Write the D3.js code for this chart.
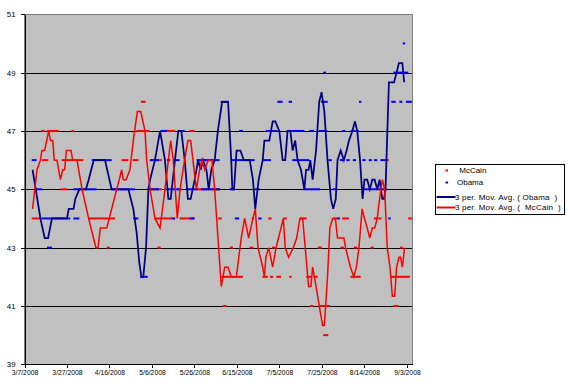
<!DOCTYPE html>
<html>
<head>
  <meta charset="utf-8">
  <title>McCain vs Obama</title>
  <script src="https://d3js.org/d3.v7.min.js"></script>
  <style>
    body { margin: 0; background: #fff; }
    text { font-family: "Liberation Sans", Arial, sans-serif; }
  </style>
</head>
<body>
<script>
  // day offsets are counted from 3/7/2008
  var startDate = "3/7/2008";
  var xTickLabels = ["3/7/2008", "3/27/2008", "4/16/2008", "5/6/2008", "5/26/2008",
    "6/15/2008", "7/5/2008", "7/25/2008", "8/14/2008", "9/3/2008"];
  var yTicks = [39, 41, 43, 45, 47, 49, 51];
  var gridValues = [41, 43, 45, 47, 49];

  // poll points, as runs of the same value: [first day, last day, value]
  var mccainRuns = [[3.4,8.1,44],[7.9,9.5,47],[8.1,11.2,46],[10.6,16.1,47],[16.9,20,45],[17.5,27.7,46],
    [22,23.1,47],[30,42.6,44],[38.7,40.2,43],[45.7,48.9,46],[50.9,53.6,46],[52.8,59,47],[54.8,57,48],
    [58,64.6,45],[59,64.6,46],[61,70.8,44],[62.6,64.1,43],[66,70.8,47],[71.9,74.1,45],[73,80,44],
    [77.7,80,47],[81,92,45],[81.6,89.5,46],[91.2,92.8,44],[92.6,102.8,42],[93.4,95,41],[96.6,98.1,43],
    [106,107.7,43],[106.9,107.7,44],[112,114.5,42],[114.7,116.3,44],[115.5,117,42],[116.5,118,43],
    [118.5,120.7,42],[121.8,123.4,44],[124.6,125.4,42],[129.6,132.8,44],[132.5,135,42],[134.4,135.9,41],
    [136,138,42],[138,139.9,43],[138.3,143.8,41],[140.6,143,40],[145.6,147.2,44],[148.7,150.3,43],
    [149.5,152.7,44],[153.4,158.2,42],[155,156.6,43],[162.8,164.4,43],[164.4,166,44],[166.5,168,44],
    [167.5,168.5,45],[170.3,171.3,46],[172.3,181.4,42],[173.6,176,41],[176.7,178,43],[180.6,182.3,44]];

  var obamaRuns = [[3.4,5.7,46],[5.4,8.1,45],[8.2,21.5,44],[23,25.8,44],[10.6,12.9,43],[23,34,45],
    [31.6,41,46],[41,52,45],[51.2,53.6,44],[54.4,58,42],[58,63.3,45],[59,63.3,46],[64,67,47],[67,73,45],
    [67,68.5,46],[69.3,70.8,44],[71,73,46],[72.4,75.4,47],[76,81.6,45],[77.7,80,44],[81,91.8,46],
    [83,92,45],[92.3,96.1,48],[96.5,99,45],[97,108.3,46],[99,101,44],[101,102.8,47],[108.5,110.8,45],
    [110,111.6,44],[112,116,46],[113.6,119,47],[119,121.5,48],[124,131.7,47],[124.3,125.9,48],
    [126,134,46],[131,139,45],[134,136.4,47],[138.5,142.5,47],[139.5,142.7,48],[140.6,141.9,49],
    [143,144.6,46],[145,147,45],[147,148.5,44],[148.4,150.5,46],[149.5,151,47],[151.5,153,46],
    [153.4,157.4,47],[154.5,156,46],[157.4,158.5,48],[159,160.5,46],[160,170.5,45],[162,163.5,46],
    [164.5,166,46],[167.5,170.7,46],[171.2,172.3,44],[172.6,174.7,48],[173.6,180.6,49],[176.4,177.8,48],
    [178,179,50],[179.5,182.3,48]];

  // 3 period moving averages
  var mccainMaDays = [3.8,5.9,7.5,8.2,9.5,11.4,12.2,13.3,14,15.3,16.9,18,18.9,19.7,21.9,22.7,24.7,27.1,
    30.2,33.6,34.6,35.7,38.7,43.4,44.6,45.7,46.5,47.8,49.6,51.2,53.1,54.7,56.7,57.5,59.1,61.4,63.8,66.1,
    67.7,68.8,70,71.9,73.2,74.6,76.9,78.2,80.9,82.4,83.5,84.8,86.4,88.2,89.5,92.6,94.2,95.8,97.3,99.7,
    102,103.6,105.5,107.5,108.6,109.9,112.1,112.9,113.6,114.9,116.8,118.4,120.7,121.8,122.7,124.3,126.5,
    128.1,129.6,130.9,132.5,133.7,134.8,135.6,137.2,138.7,140.3,141.1,142.6,143.7,145,146.3,147.3,150.3,
    151.1,152.2,153.4,155,156.2,157.4,158.9,160,161.3,162.5,163.7,164.8,166,167.1,168.4,169.5,170.7,172,
    173.1,174.2,175.1,176.2,177,177.8,178.9];
  var mccainMaVals = [44.33,45.67,46,46.33,46.33,47,46.67,46.67,46,46,45.33,45.67,45.67,46.33,46.33,46,46,45,
    44,43,43,43.67,43.67,45,45.33,45.67,45.33,45.33,45.67,46.67,47.67,47.67,47,46,45,44,43.67,45,
    46,46.67,46,44,45,45.67,46.67,46.67,45,45.67,46,45.67,46,46,45,41.67,42.33,42.33,42,42,
    43.33,44,43.33,44,44.33,43,42.33,42,42.67,43,42.33,43,43.67,44,43,42.67,43,
    43.33,44,44,42.67,41.67,41.67,42.33,41.67,41,40.33,40.33,42,43.67,44,44,43.33,43.33,
    43,42.67,42.33,42,42.33,43,44.33,44,43.67,43.33,43.67,43.67,44,44.67,45.33,45,43,42.33,
    41.33,41.33,42.33,42.67,42.67,42.33,43];

  var obamaMaDays = [3.8,7.5,9.5,11.1,12.9,20,20.8,23.1,23.9,25.8,28.9,30.2,31.4,32.6,37.9,41,48.9,51.2,
    52.8,54,55,55.9,57.2,58.3,59.1,61.4,63.8,66.1,67.7,68.8,70.8,72.4,73.8,75.4,76.9,78.2,80.1,81.7,
    82.9,84,85.6,86.7,87.9,89.5,91,93,95.8,97.3,97.8,98.6,99.8,101.6,103.2,106,107.5,108.6,110.2,112.1,
    112.9,115.2,116.8,118,119.9,121.5,122.7,123.8,125.1,126.2,127.4,128.5,130.1,131.7,132.5,133.7,134.5,
    135.6,137.2,138.7,139.8,141.1,142.6,144.2,145.3,146.5,147.3,148.8,150.3,151.6,152.7,154.3,155.5,
    156.6,157.9,159.1,160,161.3,162.5,163.7,164.8,166,167.1,168.4,169.2,169.9,171.5,172.3,173.9,175.1,
    176.2,177.8,178.7];
  var obamaMaVals = [45.67,44,43.33,43.33,44,44,44.33,44.33,44.67,45,45,45.33,45.67,46,46,45,45,44.33,
    43.5,42.5,42,42,43,45,45.33,46,47,46,44.67,44.67,46,47,47,46,44.67,44.67,45.33,46,
    45.67,46,45.67,45,45.67,46,47,48,48,46,45,45,46.33,46.33,46,46,45.33,44.33,45.33,46,
    46.67,46.67,47.33,47.33,47,46,46,47,47,46.33,46.67,46,45.67,45,45.67,45.67,46,
    45.33,46.33,48,48.33,47.67,46,44.67,44.33,44.67,46,46.33,46,46.33,46.67,47,47.33,
    47,46,44.67,45.33,45.33,45,45.33,45.33,45,45.33,44.67,44.67,45,48.67,48.67,48.67,49,
    49.33,49.33,48.67];

  var svgWidth = 569, svgHeight = 385;
  var plotLeft = 24.5, plotRight = 412.3, plotTop = 14.3, plotBottom = 364.3;
  var parse = d3.utcParse("%m/%d/%Y");
  var t0 = parse(startDate);
  var dayDate = function (d) { return new Date(t0.getTime() + d * 864e5); };

  var x = d3.scaleUtc()
    .domain([t0, dayDate(182.5)])
    .range([plotLeft, plotRight]);
  var y = d3.scaleLinear()
    .domain([39, 51])
    .range([plotBottom, plotTop]);

  var svg = d3.select("body").append("svg")
    .attr("width", svgWidth)
    .attr("height", svgHeight);

  svg.append("rect")
    .attr("x", plotLeft).attr("y", plotTop)
    .attr("width", plotRight - plotLeft).attr("height", plotBottom - plotTop)
    .attr("fill", "#c0c0c0")
    .attr("stroke", "#808080")
    .attr("shape-rendering", "crispEdges");

  svg.selectAll("line.grid")
    .data(gridValues)
    .enter().append("line")
    .attr("class", "grid")
    .attr("x1", plotLeft).attr("x2", plotRight)
    .attr("y1", function (d) { return Math.round(y(d)) + 0.5; })
    .attr("y2", function (d) { return Math.round(y(d)) + 0.5; })
    .attr("stroke", "#000")
    .attr("shape-rendering", "crispEdges");

  function drawRuns(runs, color) {
    svg.append("g").selectAll("rect")
      .data(runs)
      .enter().append("rect")
      .attr("x", function (d) { return x(dayDate(d[0])); })
      .attr("y", function (d) { return y(d[2]) - 1; })
      .attr("width", function (d) { return Math.max(2.4, x(dayDate(d[1])) - x(dayDate(d[0]))); })
      .attr("height", 2)
      .attr("fill", color);
  }
  drawRuns(mccainRuns, "#ff0000");
  drawRuns(obamaRuns, "#0000ff");

  var line = d3.line()
    .x(function (d) { return x(dayDate(d[0])); })
    .y(function (d) { return y(d[1]); });

  svg.append("path")
    .datum(d3.zip(obamaMaDays, obamaMaVals))
    .attr("d", line)
    .attr("fill", "none")
    .attr("stroke", "#000080")
    .attr("stroke-width", 1.75);

  svg.append("path")
    .datum(d3.zip(mccainMaDays, mccainMaVals))
    .attr("d", line)
    .attr("fill", "none")
    .attr("stroke", "#ff0000")
    .attr("stroke-width", 1.5);

  // axes
  var yAxis = svg.append("g")
    .attr("transform", "translate(" + plotLeft + ",0)")
    .call(d3.axisLeft(y).tickValues(yTicks).tickSize(4).tickSizeOuter(0).tickPadding(5));
  var xAxis = svg.append("g")
    .attr("transform", "translate(0," + plotBottom + ")")
    .call(d3.axisBottom(x).tickValues(xTickLabels.map(parse))
      .tickFormat(d3.utcFormat("%-m/%-d/%Y")).tickSize(4).tickSizeOuter(0).tickPadding(2));
  [yAxis, xAxis].forEach(function (a) {
    a.attr("font-family", null).attr("font-size", null);
    a.selectAll("text").attr("font-size", 7.8).attr("fill", "#000");
    a.selectAll("line, path").attr("stroke", "#000").attr("shape-rendering", "crispEdges");
  });
  xAxis.selectAll("text").attr("font-size", 6.8);

  // legend
  var legend = svg.append("g").attr("transform", "translate(435.5,164.5)");
  legend.append("rect")
    .attr("width", 129).attr("height", 50)
    .attr("fill", "#fff").attr("stroke", "#000")
    .attr("shape-rendering", "crispEdges");
  var items = [
    { label: " McCain", color: "#ff0000", kind: "dash", y: 6 },
    { label: "Obama", color: "#0000ff", kind: "dash", y: 18 },
    { label: "3 per. Mov. Avg. ( Obama  )", color: "#000080", kind: "line", y: 32.5 },
    { label: "3 per. Mov. Avg. (  McCain  )", color: "#ff0000", kind: "line", y: 43 }
  ];
  items.forEach(function (it) {
    if (it.kind === "dash") {
      legend.append("rect").attr("x", 10).attr("y", it.y - 1)
        .attr("width", 2.6).attr("height", 2).attr("fill", it.color);
    } else {
      legend.append("line").attr("x1", 1).attr("x2", 20)
        .attr("y1", it.y).attr("y2", it.y)
        .attr("stroke", it.color).attr("stroke-width", 2);
    }
    legend.append("text")
      .attr("x", it.kind === "dash" ? 21.5 : 19.5)
      .attr("y", it.y)
      .attr("dy", "0.35em")
      .attr("font-size", 8)
      .attr("letter-spacing", it.kind === "line" ? 0.2 : 0)
      .style("white-space", "pre")
      .text(it.label);
  });
</script>
</body>
</html>
